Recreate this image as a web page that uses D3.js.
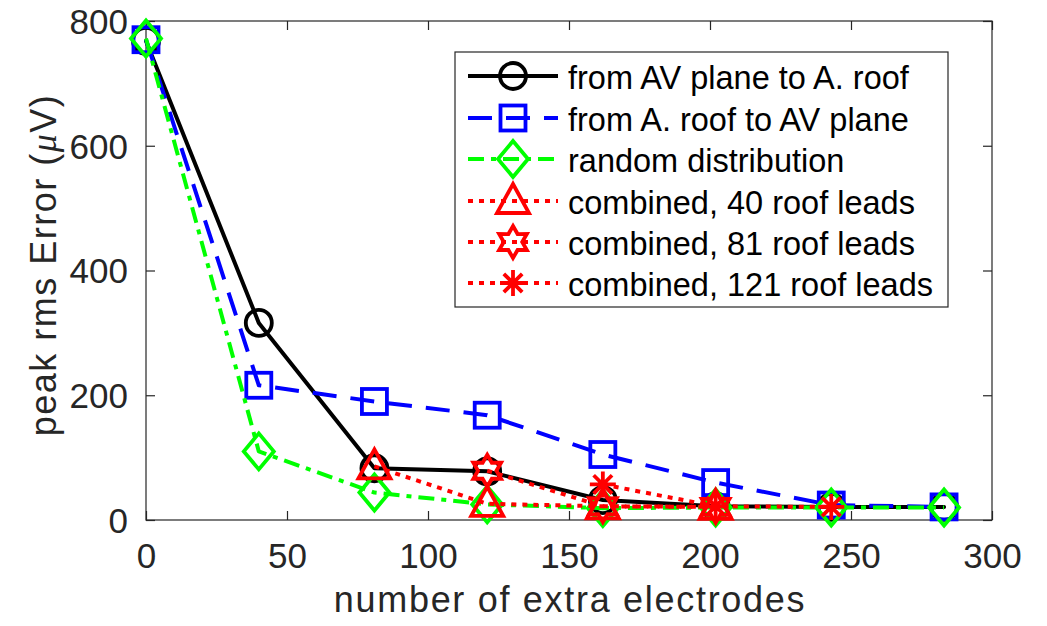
<!DOCTYPE html>
<html><head><meta charset="utf-8">
<script src="https://cdn.jsdelivr.net/npm/d3@7"></script>
<style>body{margin:0;background:#fff;} svg{display:block;}</style>
</head><body>
<svg id="chart" width="1047" height="626"></svg>
<script>
const xTicks = [0, 50, 100, 150, 200, 250, 300];
const yTicks = [0, 200, 400, 600, 800];

const xAll = [0, 40, 81, 121, 162, 202, 243, 283];
const avToRoof = [768, 316, 83, 78, 32, 22, 21, 21];
const roofToAv = [770, 216, 190, 168, 105, 60, 24, 21];
const randomDist = [772, 110, 44, 25, 19, 20, 20, 20];

const x40 = [81, 121, 162, 202];
const comb40 = [86, 26, 22, 21];
const x81 = [121, 162, 202];
const comb81 = [79, 22, 21];
const x121 = [162, 202, 243];
const comb121 = [57, 22, 21];

const legendLabels = ["from AV plane to A. roof", "from A. roof to AV plane", "random distribution",
  "combined, 40 roof leads", "combined, 81 roof leads", "combined, 121 roof leads"];

const svg = d3.select("#chart");
const L = 146, R = 992, T = 21, B = 520;
const x = d3.scaleLinear().domain([0, 300]).range([L, R]);
const y = d3.scaleLinear().domain([0, 800]).range([B, T]);
const axisColor = "#262626";
const font = "'Liberation Sans', Arial, Helvetica, sans-serif";

// box
svg.append("rect").attr("x", L).attr("y", T).attr("width", R - L).attr("height", B - T)
  .attr("fill", "none").attr("stroke", axisColor).attr("stroke-width", 1.2);

const tl = 9;
const gx = svg.append("g").attr("transform", `translate(0,${B})`)
  .call(d3.axisBottom(x).tickValues(xTicks).tickSize(-tl).tickPadding(23).tickFormat(d3.format("d")));
const gxt = svg.append("g").attr("transform", `translate(0,${T})`)
  .call(d3.axisTop(x).tickValues(xTicks).tickSize(-tl).tickFormat(""));
const gy = svg.append("g").attr("transform", `translate(${L},0)`)
  .call(d3.axisLeft(y).tickValues(yTicks).tickSize(-tl).tickPadding(18).tickFormat(d3.format("d")));
const gyr = svg.append("g").attr("transform", `translate(${R},0)`)
  .call(d3.axisRight(y).tickValues(yTicks).tickSize(-tl).tickFormat(""));
[gx, gxt, gy, gyr].forEach(g => {
  g.select(".domain").remove();
  g.selectAll(".tick line").attr("stroke", axisColor).attr("stroke-width", 1.2);
  g.selectAll("text").attr("fill", axisColor).style("font-family", font).style("font-size", "35px");
});
gx.selectAll("text").attr("dy", "0.71em");
gy.selectAll("text").attr("dy", "0.35em");

// axis labels
svg.append("text").attr("x", 570).attr("y", 612).attr("text-anchor", "middle")
  .attr("fill", axisColor).style("font-family", font).style("font-size", "36px")
  .style("letter-spacing", "1.7px")
  .text("number of extra electrodes");
const yl = svg.append("text").attr("transform", `translate(56,265) rotate(-90)`)
  .attr("text-anchor", "middle").attr("fill", axisColor)
  .style("font-family", font).style("font-size", "36px").style("letter-spacing", "1.5px");
yl.append("tspan").text("peak rms Error (");
yl.append("tspan").attr("font-family", "'Liberation Serif', 'Times New Roman', serif").attr("font-style", "italic").text("μ");
yl.append("tspan").text("V)");

// marker shapes
function marker(g, type, color, cx, cy) {
  const sw = 3.8;
  if (type === "circle") {
    g.append("circle").attr("cx", cx).attr("cy", cy).attr("r", 13).attr("fill", "none").attr("stroke", color).attr("stroke-width", sw);
  } else if (type === "square") {
    g.append("rect").attr("x", cx - 12.5).attr("y", cy - 12.5).attr("width", 25).attr("height", 25).attr("fill", "none").attr("stroke", color).attr("stroke-width", sw);
  } else if (type === "diamond") {
    g.append("path").attr("d", `M${cx},${cy - 18}L${cx + 15},${cy}L${cx},${cy + 18}L${cx - 15},${cy}Z`).attr("fill", "none").attr("stroke", color).attr("stroke-width", sw);
  } else if (type === "triangle") {
    g.append("path").attr("d", `M${cx},${cy - 17}L${cx + 16},${cy + 12}L${cx - 16},${cy + 12}Z`).attr("fill", "none").attr("stroke", color).attr("stroke-width", sw).attr("stroke-linejoin", "miter");
  } else if (type === "hexagram") {
    const pts = [];
    for (let i = 0; i < 12; i++) {
      const a = -Math.PI / 2 + i * Math.PI / 6;
      const r = i % 2 === 0 ? 16 : 9.2;
      pts.push([cx + r * Math.cos(a), cy + r * Math.sin(a)]);
    }
    g.append("path").attr("d", "M" + pts.map(p => p.join(",")).join("L") + "Z").attr("fill", "none").attr("stroke", color).attr("stroke-width", sw);
  } else if (type === "asterisk") {
    const r = 13;
    const d = [0, 45, 90, 135].map(deg => {
      const a = deg * Math.PI / 180;
      return `M${cx - r * Math.cos(a)},${cy - r * Math.sin(a)}L${cx + r * Math.cos(a)},${cy + r * Math.sin(a)}`;
    }).join("");
    g.append("path").attr("d", d).attr("stroke", color).attr("stroke-width", sw).attr("fill", "none");
  }
}

const series = [
  { xs: xAll, ys: avToRoof, color: "#000000", dash: null, mk: "circle", cap: "round" },
  { xs: xAll, ys: roofToAv, color: "#0000ff", dash: "24,14", mk: "square", cap: "butt" },
  { xs: xAll, ys: randomDist, color: "#00ff00", dash: "16,7,5,7", mk: "diamond", cap: "butt" },
  { xs: x40, ys: comb40, color: "#ff0000", dash: "5,6", mk: "triangle", cap: "butt" },
  { xs: x81, ys: comb81, color: "#ff0000", dash: "5,6", mk: "hexagram", cap: "butt" },
  { xs: x121, ys: comb121, color: "#ff0000", dash: "5,6", mk: "asterisk", cap: "butt" }
];

const line = d3.line().x(d => x(d[0])).y(d => y(d[1]));
const plot = svg.append("g");
series.forEach(s => {
  const g = plot.append("g");
  const data = s.xs.map((v, i) => [v, s.ys[i]]);
  const p = g.append("path").attr("d", line(data)).attr("fill", "none")
    .attr("stroke", s.color).attr("stroke-width", 4).attr("stroke-linejoin", "round").attr("stroke-linecap", s.cap);
  if (s.dash) p.attr("stroke-dasharray", s.dash);
  data.forEach(d => marker(g, s.mk, s.color, x(d[0]), y(d[1])));
});

// legend
const lg = svg.append("g");
lg.append("rect").attr("x", 455).attr("y", 52).attr("width", 493).attr("height", 255)
  .attr("fill", "#fff").attr("stroke", axisColor).attr("stroke-width", 1.2);
const rowY = [76, 118, 159, 201, 242, 283];
series.forEach((s, i) => {
  const ry = rowY[i];
  const p = lg.append("path").attr("d", `M468,${ry}L558,${ry}`).attr("stroke", s.color)
    .attr("stroke-width", 4).attr("fill", "none");
  if (s.dash) p.attr("stroke-dasharray", s.dash);
  marker(lg, s.mk, s.color, 513, ry);
  lg.append("text").attr("x", 568).attr("y", ry + 13)
    .attr("fill", "#000").style("font-family", font).style("font-size", "32.5px").text(legendLabels[i]);
});
</script>
</body></html>
